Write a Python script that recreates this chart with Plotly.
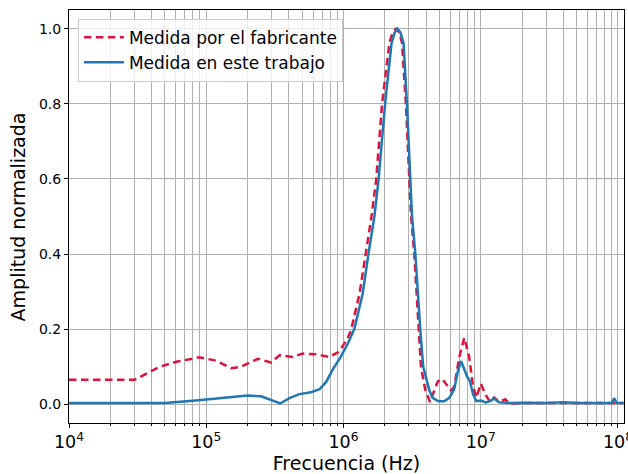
import plotly.graph_objects as go

# Fabricante (red dashed)
red_f = [1e4, 3e4, 4.58e4, 6.05e4, 8.9e4, 1.18e5, 1.52e5, 1.8e5, 2.38e5, 2.97e5,
         3.42e5, 4.27e5, 5.05e5, 6.3e5, 7.9e5, 9.3e5, 1.07e6, 1.135e6, 1.31e6, 1.46e6,
         1.60e6, 1.73e6, 1.91e6, 2.16e6, 2.28e6, 2.42e6, 2.55e6, 2.67e6, 2.85e6, 3.02e6,
         3.11e6, 3.28e6, 3.41e6, 3.53e6, 3.67e6, 3.95e6, 4.27e6, 4.85e6, 5.22e6, 6.07e6,
         6.41e6, 6.98e6, 7.59e6, 8.24e6, 8.8e6, 9.33e6, 1.0e7, 1.09e7, 1.17e7, 1.25e7,
         1.36e7, 1.51e7, 1.61e7, 2e7, 5e7, 1.1e8]
red_v = [0.065, 0.065, 0.100, 0.113, 0.125, 0.116, 0.096, 0.100, 0.121, 0.111,
         0.130, 0.126, 0.135, 0.133, 0.126, 0.140, 0.175, 0.197, 0.295, 0.400,
         0.500, 0.597, 0.800, 0.962, 0.990, 1.000, 0.990, 0.962, 0.800, 0.597,
         0.500, 0.400, 0.295, 0.197, 0.100, 0.037, 0.006, 0.060, 0.068, 0.037,
         0.046, 0.126, 0.177, 0.126, 0.046, 0.018, 0.055, 0.024, 0.006, 0.018,
         0.006, 0.013, 0.002, 0.003, 0.003, 0.003]

# Este trabajo (blue solid)
blue_f = [1e4, 5e4, 8e4, 1.06e5, 1.4e5, 2.01e5, 2.51e5, 2.97e5, 3.46e5, 4.04e5,
          4.77e5, 5.8e5, 6.7e5, 7.5e5, 8.34e5, 9.5e5, 1.07e6, 1.2e6, 1.38e6, 1.52e6,
          1.68e6, 1.80e6, 2.01e6, 2.24e6, 2.36e6, 2.48e6, 2.6e6, 2.74e6, 2.90e6, 3.07e6,
          3.16e6, 3.34e6, 3.47e6, 3.63e6, 3.81e6, 4.22e6, 4.46e6, 4.93e6, 5.42e6, 5.9e6,
          6.41e6, 6.78e6, 7.18e6, 7.59e6, 8.02e6, 8.34e6, 8.81e6, 9.3e6, 1.0e7, 1.09e7,
          1.18e7, 1.25e7, 1.36e7, 1.6e7, 2e7, 3e7, 4e7, 5e7, 7e7, 9e7,
          9.4e7, 9.8e7, 1.1e8]
blue_v = [0.003, 0.003, 0.009, 0.013, 0.018, 0.023, 0.021, 0.012, 0.002, 0.016,
          0.027, 0.032, 0.040, 0.060, 0.092, 0.125, 0.160, 0.200, 0.295, 0.400,
          0.500, 0.597, 0.800, 0.962, 0.990, 1.000, 0.990, 0.962, 0.800, 0.597,
          0.500, 0.400, 0.295, 0.197, 0.100, 0.037, 0.017, 0.008, 0.008, 0.017,
          0.040, 0.084, 0.115, 0.093, 0.071, 0.062, 0.026, 0.008, 0.010, 0.005,
          0.009, 0.015, 0.005, 0.003, 0.004, 0.003, 0.005, 0.003, 0.004, 0.003,
          0.016, 0.003, 0.003]

y_ticks = [0.0, 0.2, 0.4, 0.6, 0.8, 1.0]

FONT = "DejaVu Sans"

fig = go.Figure()
fig.add_trace(go.Scatter(x=red_f, y=red_v, mode="lines", name="Medida por el fabricante",
                         line=dict(color="#DC143C", width=2.5, dash="7.5px,4.5px")))
fig.add_trace(go.Scatter(x=blue_f, y=blue_v, mode="lines", name="Medida en este trabajo",
                         line=dict(color="#1f77b4", width=2.5)))

fig.update_layout(
    width=628, height=474,
    margin=dict(l=69, r=4, t=10, b=51),
    plot_bgcolor="white", paper_bgcolor="white",
    font=dict(family=FONT, color="black", size=14),
    showlegend=True,
    legend=dict(x=0.016, y=0.979, xanchor="left", yanchor="top",
                bgcolor="rgba(255,255,255,0.8)", bordercolor="#cccccc", borderwidth=1,
                font=dict(family=FONT, size=17), tracegroupgap=0, itemwidth=40),
    annotations=[dict(text="Amplitud normalizada", xref="paper", yref="paper",
                      x=-0.092, y=0.5, xanchor="center", yanchor="middle",
                      textangle=-90, showarrow=False,
                      font=dict(family=FONT, size=19, color="black"))],
)
fig.update_xaxes(
    type="log", range=[4, 8.044],
    dtick=1, exponentformat="power",
    showline=True, linecolor="black", linewidth=1, mirror=True,
    ticks="outside", ticklen=4, tickcolor="black",
    showgrid=True, gridcolor="#b0b0b0", gridwidth=1,
    minor=dict(dtick="D1", showgrid=True, gridcolor="#b0b0b0", gridwidth=1,
               ticks="outside", ticklen=2, tickcolor="black"),
    title=dict(text="Frecuencia (Hz)", font=dict(size=19)),
    tickfont=dict(size=14),
    ticklabeloverflow="allow",
    automargin=False,
    zeroline=False,
)
fig.update_yaxes(
    range=[-0.05, 1.05], tickvals=y_ticks, tickformat=".1f",
    showline=True, linecolor="black", linewidth=1, mirror=True,
    ticks="outside", ticklen=4, tickcolor="black",
    showgrid=True, gridcolor="#b0b0b0", gridwidth=1,
    tickfont=dict(size=14),
    automargin=False,
    zeroline=False,
)

fig.write_html("out.html")
